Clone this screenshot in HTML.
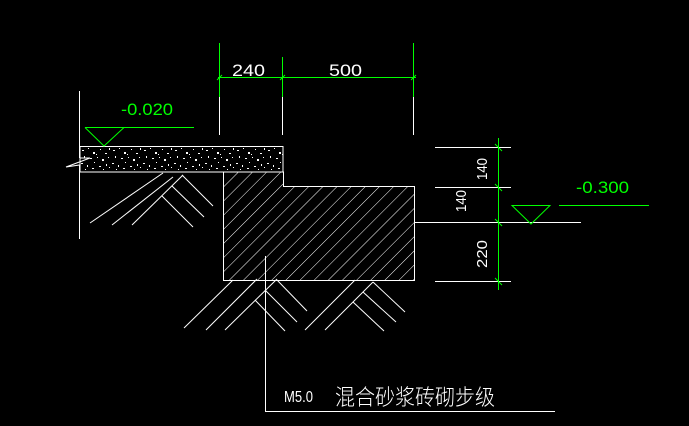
<!DOCTYPE html>
<html><head><meta charset="utf-8"><style>
html,body{margin:0;padding:0;background:#000;width:689px;height:426px;overflow:hidden}
svg{display:block}
text{font-family:"Liberation Sans","Noto Sans CJK SC",sans-serif}
</style></head><body>
<svg width="689" height="426" viewBox="0 0 689 426" xmlns="http://www.w3.org/2000/svg">
<defs>
<pattern id="h" width="10" height="10" patternUnits="userSpaceOnUse" patternTransform="rotate(45)">
<line x1="0" y1="0" x2="0" y2="10" stroke="#fff" stroke-width="1"/>
</pattern>
<pattern id="d" width="31" height="24" patternUnits="userSpaceOnUse" x="80" y="147">
<g fill="#fff">
<rect x="2" y="3" width="2" height="1"/><rect x="8" y="1" width="1" height="1"/><rect x="13" y="5" width="2" height="2"/>
<rect x="20" y="2" width="1" height="1"/><rect x="25" y="6" width="2" height="1"/><rect x="29" y="1" width="1" height="2"/>
<rect x="4" y="9" width="1" height="2"/><rect x="10" y="11" width="2" height="1"/><rect x="17" y="10" width="1" height="1"/>
<rect x="22" y="12" width="2" height="2"/><rect x="28" y="10" width="1" height="1"/><rect x="1" y="16" width="2" height="1"/>
<rect x="7" y="18" width="1" height="2"/><rect x="14" y="15" width="1" height="1"/><rect x="19" y="19" width="2" height="1"/>
<rect x="26" y="17" width="1" height="2"/><rect x="5" y="22" width="1" height="1"/><rect x="12" y="21" width="2" height="1"/>
<rect x="23" y="22" width="1" height="1"/><rect x="29" y="20" width="1" height="1"/><rect x="16" y="7" width="1" height="1"/>
</g></pattern>
</defs>
<g stroke="#fff" stroke-width="1" fill="none">
<line x1="79.5" y1="91" x2="79.5" y2="158"/>
<line x1="79.5" y1="172" x2="79.5" y2="239"/>
<polyline points="79.5,158 90,158 66,167 79.5,165 79.5,172"/>
<rect x="80" y="146.5" width="203" height="25.5" fill="url(#d)"/>
<path d="M223.5,172 V280.5 H414.5 V186.5 H283.5 V172 Z" fill="url(#h)"/>
<line x1="90" y1="223" x2="163" y2="173"/><line x1="112" y1="225" x2="173" y2="177"/><line x1="132" y1="225" x2="183" y2="175"/>
<line x1="182" y1="175" x2="213" y2="206"/><line x1="172" y1="186" x2="204" y2="217"/><line x1="162" y1="196" x2="193" y2="227"/>
<line x1="184" y1="328" x2="233" y2="280"/><line x1="206" y1="330" x2="257" y2="279"/><line x1="225" y1="330" x2="277" y2="279"/>
<line x1="277" y1="280" x2="307" y2="311"/><line x1="265" y1="290" x2="297" y2="322"/><line x1="255" y1="300" x2="285" y2="331"/>
<line x1="305" y1="330" x2="355" y2="280"/><line x1="325" y1="330" x2="373" y2="282"/>
<line x1="373" y1="282" x2="405" y2="312"/><line x1="363" y1="292" x2="396" y2="322"/><line x1="353" y1="302" x2="384" y2="331"/>
<line x1="219.5" y1="43" x2="219.5" y2="135"/><line x1="282.5" y1="57" x2="282.5" y2="135"/><line x1="413.5" y1="43" x2="413.5" y2="135"/>
<line x1="435" y1="147.5" x2="511" y2="147.5"/><line x1="435" y1="187.5" x2="511" y2="187.5"/>
<line x1="415" y1="222.5" x2="581" y2="222.5"/><line x1="435" y1="281.5" x2="511" y2="281.5"/>
<polyline points="265.5,256 265.5,411.5 555,411.5"/>
</g>
<g stroke="#0f0" stroke-width="1" fill="none">
<line x1="219.5" y1="43" x2="219.5" y2="97"/><line x1="282.5" y1="57" x2="282.5" y2="97"/><line x1="413.5" y1="43" x2="413.5" y2="97"/>
<line x1="218" y1="77.5" x2="416" y2="77.5"/>
<line x1="217" y1="80" x2="222" y2="75"/><line x1="280" y1="80" x2="285" y2="75"/><line x1="411" y1="80" x2="416" y2="75"/>
<line x1="85" y1="127.5" x2="194" y2="127.5"/><polyline points="85,127.5 104,146 124,127.5"/>
<line x1="498.5" y1="138" x2="498.5" y2="290"/>
<line x1="495" y1="144" x2="502" y2="151"/><line x1="495" y1="184" x2="502" y2="191"/><line x1="495" y1="219" x2="502" y2="226"/><line x1="495" y1="278" x2="502" y2="285"/>
<line x1="559" y1="205.5" x2="649" y2="205.5"/><polygon points="512,205.5 531,224 550,205.5"/>
</g>
<g font-size="17" fill="#fff">
<text x="232" y="76" textLength="33" lengthAdjust="spacingAndGlyphs">240</text>
<text x="329" y="76" textLength="33" lengthAdjust="spacingAndGlyphs">500</text>
<text fill="#0f0" x="121" y="115" textLength="52" lengthAdjust="spacingAndGlyphs">-0.020</text>
<text fill="#0f0" x="576" y="193" textLength="53" lengthAdjust="spacingAndGlyphs">-0.300</text>
<text font-size="15" transform="translate(487,180) rotate(-90)" textLength="22" lengthAdjust="spacingAndGlyphs">140</text>
<text font-size="15" transform="translate(466,212) rotate(-90)" textLength="22" lengthAdjust="spacingAndGlyphs">140</text>
<text font-size="15" transform="translate(487,268) rotate(-90)" textLength="28" lengthAdjust="spacingAndGlyphs">220</text>
<text font-size="16" x="284" y="402" textLength="29" lengthAdjust="spacingAndGlyphs">M5.0</text>
<text font-size="22" x="335" y="405" textLength="160" lengthAdjust="spacingAndGlyphs" font-weight="300">混合砂浆砖砌步级</text>
</g>
</svg>
</body></html>
